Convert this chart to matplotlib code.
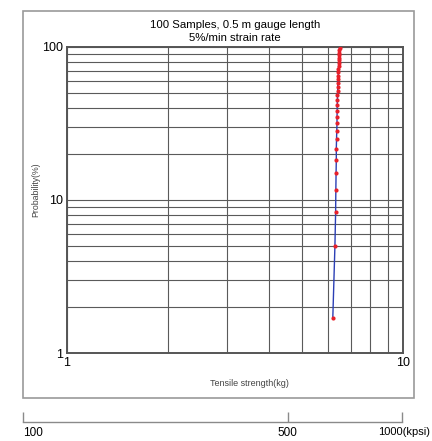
import numpy as np
import matplotlib
matplotlib.use('Agg')
import matplotlib.pyplot as plt
from matplotlib.patches import Rectangle
from matplotlib.ticker import NullLocator, FixedLocator, NullFormatter

plt.rcParams['font.family'] = ['Liberation Sans', 'DejaVu Sans']

# Cumulative failure probability (%) vs tensile strength (kg)
probability = [1.7, 5.0, 8.3, 11.7, 15.0, 18.3, 21.7, 25.0, 28.3, 31.7,
               35.0, 38.3, 41.7, 45.0, 48.3, 51.7, 55.0, 58.3, 61.7, 65.0,
               68.3, 71.7, 75.0, 78.3, 81.7, 85.0, 88.3, 91.7, 95.0, 98.3]
strength = [6.18, 6.27, 6.30, 6.31, 6.32, 6.33, 6.33, 6.34, 6.35, 6.36,
            6.36, 6.37, 6.37, 6.38, 6.38, 6.39, 6.39, 6.40, 6.40, 6.41,
            6.42, 6.42, 6.43, 6.43, 6.44, 6.44, 6.45, 6.45, 6.46, 6.47]

# secondary scale in kpsi
kpsi_ticks = [100, 500, 1000]
kpsi_labels = ['100', '500', '']

fig = plt.figure(figsize=(4.32, 4.41), dpi=100)

# outer frame
fig.patches.append(Rectangle((0.053, 0.0975), 0.905, 0.8775, transform=fig.transFigure,
                             fill=False, edgecolor='#9a9a9a', linewidth=1.2))

ax = fig.add_axes([0.155, 0.1995, 0.778, 0.694])
ax.set_xscale('log')
ax.set_yscale('log')
ax.set_xlim(1, 10)
ax.set_ylim(1, 100)

ax.grid(True, which='both', color='#5a5a5a', linewidth=0.8)
ax.set_axisbelow(True)

ax.plot(strength, probability, color='#2b3fb5', linewidth=1.0, zorder=3)
ax.plot(strength, probability, linestyle='none', marker='o', markersize=3.0,
        color='#e8202a', markeredgewidth=0, zorder=4)

ax.xaxis.set_major_locator(FixedLocator([1, 10]))
ax.yaxis.set_major_locator(FixedLocator([1, 10, 100]))
ax.set_xticklabels(['1', '10'])
ax.set_yticklabels(['1', '10', '100'])
ax.xaxis.set_minor_formatter(NullFormatter())
ax.yaxis.set_minor_formatter(NullFormatter())
ax.tick_params(which='both', length=0, labelsize=9, pad=3)

for sp in ax.spines.values():
    sp.set_color('#555555')
    sp.set_linewidth(1.4)

ax.set_title('100 Samples, 0.5 m gauge length\n5%/min strain rate',
             fontsize=8.2, pad=4, linespacing=1.4)
ax.set_xlabel('Tensile strength(kg)', fontsize=6.5, color='#444444')
ax.xaxis.set_label_coords(0.542, -0.085)
ax.set_ylabel('Probability(%)', fontsize=6.3, color='#444444')
ax.yaxis.set_label_coords(-0.080, 0.533)

# kpsi scale under the frame
ax2 = fig.add_axes([0.0525, 0.0438, 0.8775, 0.0005])
ax2.set_xscale('log')
ax2.set_xlim(100, 1000)
ax2.set_yticks([])
for side in ['top', 'left', 'right']:
    ax2.spines[side].set_visible(False)
ax2.spines['bottom'].set_color('#8a8a8a')
ax2.spines['bottom'].set_linewidth(1.0)
ax2.xaxis.set_major_locator(FixedLocator(kpsi_ticks))
ax2.xaxis.set_minor_locator(NullLocator())
ax2.set_xticklabels(kpsi_labels)
ax2.get_xticklabels()[0].set_ha('left')
ax2.tick_params(axis='x', direction='in', length=7, width=1.0, color='#8a8a8a',
                labelsize=8.5, pad=4)
ax2.annotate('1000(kpsi)', xy=(1000, 0), xycoords=('data', 'axes fraction'),
             xytext=(-17, -4), textcoords='offset points', ha='left', va='top',
             fontsize=8, annotation_clip=False)

fig.savefig('out.png', dpi=100)
